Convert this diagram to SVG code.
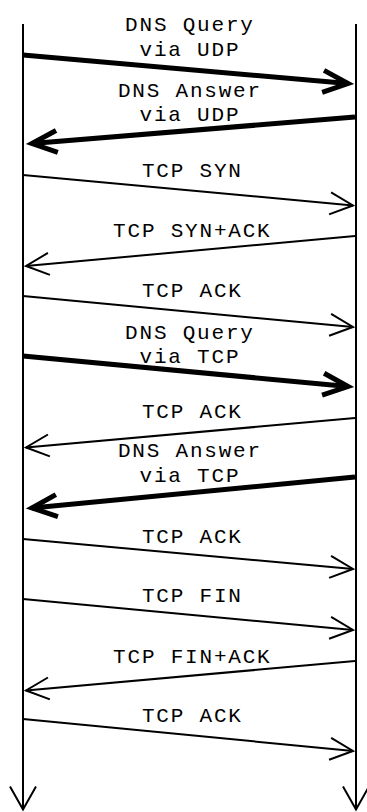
<svg xmlns="http://www.w3.org/2000/svg" width="367" height="812" viewBox="0 0 367 812">
  <style>
    .life { stroke: #000; stroke-width: 2; fill: none; }
    .msg { stroke: #000; stroke-width: 2; fill: none; marker-end: url(#head); }
    .msg.bulk { stroke-width: 5; marker-end: url(#headBold); }
    .lbl { font-family: "Liberation Mono", "DejaVu Sans Mono", monospace; font-size: 21px; letter-spacing: 1.8px; fill: #000; text-anchor: middle; }
  </style>
  <defs>
    <marker id="head" markerUnits="userSpaceOnUse" viewBox="-30 -16 36 32" markerWidth="36" markerHeight="32" refX="0" refY="0" orient="auto">
      <path d="M-23,-11 L0,0 L-23,11" fill="none" stroke="#000" stroke-width="2" stroke-linejoin="miter"/>
    </marker>
    <marker id="headBold" markerUnits="userSpaceOnUse" viewBox="-34 -18 46 36" markerWidth="46" markerHeight="36" refX="0" refY="0" orient="auto">
      <path d="M-25,-11 L0,0 L-25,11" fill="none" stroke="#000" stroke-width="5" stroke-linejoin="miter"/>
    </marker>
    <marker id="lifeEnd" markerUnits="userSpaceOnUse" viewBox="-30 -18 36 36" markerWidth="36" markerHeight="36" refX="0" refY="0" orient="auto">
      <path d="M-23,-13 L0,0 L-23,13" fill="none" stroke="#000" stroke-width="2" stroke-linejoin="miter"/>
    </marker>
  </defs>

  <!-- the two endpoints: client on the left, server on the right -->
  <g id="client">
    <line class="life" x1="23" y1="24" x2="23" y2="809.5" marker-end="url(#lifeEnd)"/>
  </g>
  <g id="server">
    <line class="life" x1="356" y1="24" x2="356" y2="809.5" marker-end="url(#lifeEnd)"/>
  </g>

  <!-- messages exchanged over time -->
  <g id="connectors">
    <g id="m1">
      <line class="msg bulk" x1="23" y1="55" x2="348" y2="83.5"/>
      <text class="lbl" x="189.9" y="31">DNS Query</text>
      <text class="lbl" x="189.9" y="55.5">via UDP</text>
    </g>
    <g id="m2">
      <line class="msg bulk" x1="355" y1="117" x2="32" y2="143.5"/>
      <text class="lbl" x="189.9" y="97">DNS Answer</text>
      <text class="lbl" x="189.9" y="121">via UDP</text>
    </g>
    <g id="m3">
      <line class="msg" x1="23" y1="175" x2="353" y2="205.5"/>
      <text class="lbl" x="192.3" y="177">TCP SYN</text>
    </g>
    <g id="m4">
      <line class="msg" x1="355" y1="236" x2="26" y2="266"/>
      <text class="lbl" x="192.3" y="237">TCP SYN+ACK</text>
    </g>
    <g id="m5">
      <line class="msg" x1="23" y1="296" x2="353" y2="327"/>
      <text class="lbl" x="192.3" y="297">TCP ACK</text>
    </g>
    <g id="m6">
      <line class="msg bulk" x1="23" y1="356" x2="348" y2="386.5"/>
      <text class="lbl" x="189.9" y="339">DNS Query</text>
      <text class="lbl" x="189.9" y="363">via TCP</text>
    </g>
    <g id="m7">
      <line class="msg" x1="355" y1="418" x2="26" y2="447.5"/>
      <text class="lbl" x="192.3" y="418">TCP ACK</text>
    </g>
    <g id="m8">
      <line class="msg bulk" x1="355" y1="477" x2="32" y2="508"/>
      <text class="lbl" x="189.9" y="457">DNS Answer</text>
      <text class="lbl" x="189.9" y="481.5">via TCP</text>
    </g>
    <g id="m9">
      <line class="msg" x1="23" y1="539" x2="353" y2="569"/>
      <text class="lbl" x="192.3" y="542.5">TCP ACK</text>
    </g>
    <g id="m10">
      <line class="msg" x1="23" y1="599" x2="353" y2="630"/>
      <text class="lbl" x="192.3" y="601.5">TCP FIN</text>
    </g>
    <g id="m11">
      <line class="msg" x1="355" y1="661" x2="26" y2="690.5"/>
      <text class="lbl" x="192.3" y="662.5">TCP FIN+ACK</text>
    </g>
    <g id="m12">
      <line class="msg" x1="23" y1="719" x2="353" y2="751"/>
      <text class="lbl" x="192.3" y="721.5">TCP ACK</text>
    </g>
  </g>
</svg>
